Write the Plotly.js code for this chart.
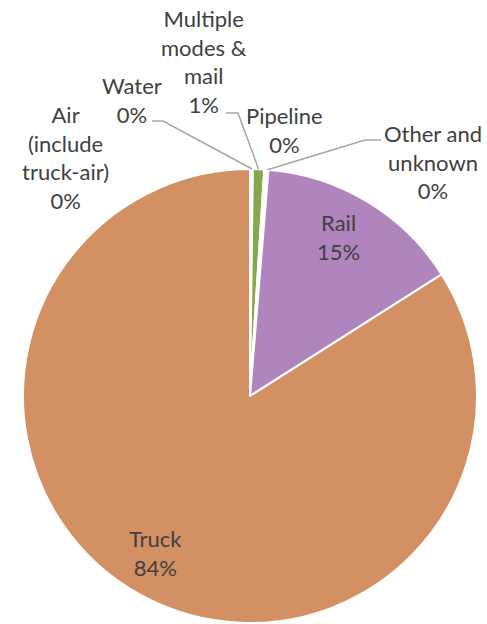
<!DOCTYPE html>
<html>
<head>
<meta charset="utf-8">
<script src="https://cdn.plot.ly/plotly-3.0.1.min.js"></script>
<style>html,body{margin:0;padding:0;background:#fff;}#chart{width:487px;height:624px;}</style>
</head>
<body>
<div id="chart"></div>
<script>
// Data (share of freight, percent)
const labels = ["Air (include truck-air)", "Water", "Multiple modes & mail", "Pipeline", "Other and unknown", "Rail", "Truck"];
const shortLabels = ["Air<br>(include<br>truck-air)", "Water", "Multiple<br>modes &<br>mail", "Pipeline", "Other and<br>unknown", "Rail", "Truck"];
const values = [0.1, 0.1, 0.8, 0.15, 0.15, 14.7, 84.0];
const colors = ["#5B9BD5", "#4472C4", "#86A84A", "#7F7F7F", "#A5A5A5", "#B084BC", "#D39062"];

const W = 487, H = 624;
const cx = 250, cy = 396, R = 227;
const px = x => x / W, py = y => 1 - y / H;

// label placement (pixel centres) and leader-line elbows
const labelPos = [
  {x: 65, y: 157},
  {x: 132, y: 100, leader: [[152, 121], [163, 121]]},
  {x: 204, y: 62, leader: [[226, 113], [238, 113]]},
  {x: 284, y: 130},
  {x: 433, y: 162, leader: [[381, 140], [365, 140]]},
  {x: 338, y: 237},
  {x: 155, y: 553}
];

const total = values.reduce((a, b) => a + b, 0);
let cum = 0;
const annotations = [], shapes = [];
const font = {family: "Lato, 'Open Sans', sans-serif", size: 22, color: "#404040"};
values.forEach((v, i) => {
  const mid = (cum + v / 2) / total * 2 * Math.PI;
  cum += v;
  const pct = Math.round(v / total * 100) + "%";
  const lp = labelPos[i];
  annotations.push({
    x: px(lp.x), y: py(lp.y), xref: "paper", yref: "paper",
    text: shortLabels[i] + "<br>" + pct, showarrow: false,
    xanchor: "center", yanchor: "middle", align: "center", font: font
  });
  if (lp.leader) {
    const ex = cx + R * Math.sin(mid), ey = cy - R * Math.cos(mid);
    const pts = lp.leader.concat([[ex, ey]]);
    const path = pts.map((p, k) => (k ? "L" : "M") + px(p[0]) + "," + py(p[1])).join(" ");
    shapes.push({type: "path", xref: "paper", yref: "paper", path: path,
      line: {color: "#A6A6A6", width: 1.5}});
  }
});

const trace = {
  type: "pie",
  labels: labels,
  values: values,
  sort: false,
  direction: "clockwise",
  rotation: 0,
  textinfo: "none",
  hoverinfo: "label+percent",
  marker: {colors: colors, line: {color: "#ffffff", width: 2}},
  domain: {x: [px(cx - R), px(cx + R)], y: [py(cy + R), py(cy - R)]},
  showlegend: false
};

const layout = {
  width: W, height: H,
  margin: {l: 0, r: 0, t: 0, b: 0},
  paper_bgcolor: "#ffffff",
  showlegend: false,
  annotations: annotations,
  shapes: shapes
};

Plotly.newPlot("chart", [trace], layout, {displayModeBar: false, staticPlot: true});
</script>
</body>
</html>
